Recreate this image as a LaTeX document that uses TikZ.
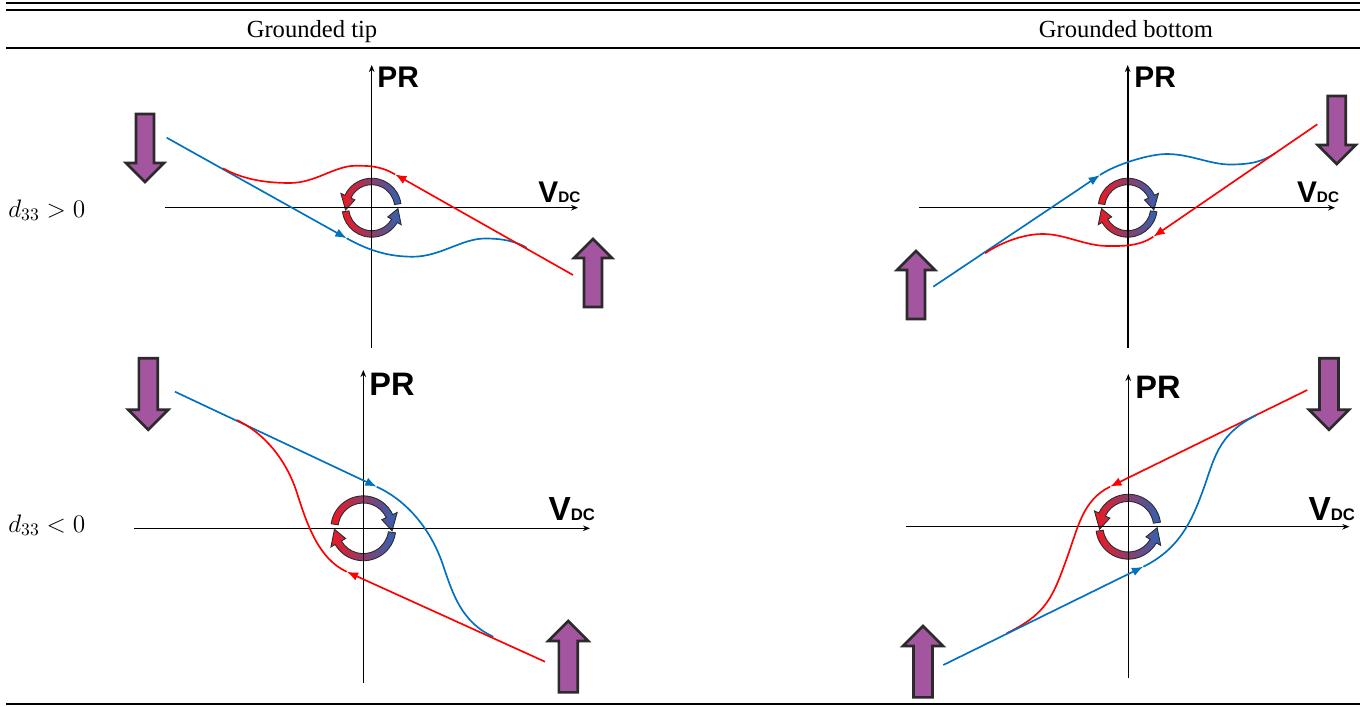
\documentclass[tikz,border=0pt]{standalone}
\usepackage{fontspec}
\setmainfont{Liberation Serif}
\setsansfont{Liberation Sans}
\usepackage{tikz}
\usetikzlibrary{arrows.meta}
\definecolor{pr-red}{HTML}{FF0000}
\definecolor{pr-blue}{HTML}{0070C0}
\definecolor{pr-purple}{HTML}{A4559F}
\definecolor{pr-edge}{HTML}{2B2B2B}
\definecolor{ring-red}{HTML}{EE1822}
\definecolor{ring-mid}{HTML}{8A4A9E}
\definecolor{ring-blue}{HTML}{2F62B4}

% one curved piece of the rotation symbol: start angle, head base angle, tip angle
\newcommand{\ringpiece}[3]{%
  \draw[ring] (#1:29.5) arc[start angle=#1, end angle=#2, radius=29.5]
    -- (#2:34) -- (#3:26.25) -- (#2:18.5) -- (#2:23)
    arc[start angle=#2, end angle=#1, radius=23] -- cycle;}
\newcommand{\dcsub}{{\fontsize{8.7}{9}\selectfont DC}}
\newcommand{\dcsubB}{{\fontsize{9.5}{10}\selectfont DC}}

\begin{document}
\begin{tikzpicture}[
    x=0.02cm, y=-0.02cm,
    rule/.style={line width=1.1pt, black},
    axis/.style={line width=0.9pt, -{Stealth[length=4pt, width=3.2pt]}},
    redcurve/.style={pr-red, line width=0.95pt},
    bluecurve/.style={pr-blue, line width=0.95pt},
    tip/.style={-{Latex[length=6.5pt, width=5pt]}},
    ring/.style={draw=pr-edge, line width=0.5pt, left color=ring-red,
                 middle color=ring-mid, right color=ring-blue},
    head/.style={font=\fontsize{14}{16}\selectfont, anchor=base, inner sep=0pt},
    rowlab/.style={font=\fontsize{14.5}{16}\selectfont, anchor=base west, inner sep=0pt},
    prlab/.style={font=\sffamily\bfseries\fontsize{17}{17}\selectfont, anchor=base west, inner sep=0pt},
    prlabB/.style={font=\sffamily\bfseries\fontsize{18.5}{18}\selectfont, anchor=base west, inner sep=0pt},
    vlab/.style={font=\sffamily\bfseries\fontsize{17}{17}\selectfont, anchor=base west, inner sep=0pt},
    vlabB/.style={font=\sffamily\bfseries\fontsize{19}{19}\selectfont, anchor=base west, inner sep=0pt},
    bigarrow/.pic={
        \draw[draw=pr-edge, fill=pr-purple, line width=1.5pt, line join=miter]
            (-9,-34) -- (9,-34) -- (9,15) -- (19,15) -- (0,34) -- (-19,15) -- (-9,15) -- cycle;
    },
    ccw/.pic={
        \begin{scope}[yscale=-1]
            \ringpiece{8}{155}{185}
            \ringpiece{188}{330}{358}
        \end{scope}
    },
    cw/.pic={
        \begin{scope}[yscale=-1]
            \ringpiece{172}{25}{-5}
            \ringpiece{352}{210}{182}
        \end{scope}
    }
]
\useasboundingbox (0,0) rectangle (1360,707);

% =========================================================================
% TABLE RULES AND HEADINGS
% =========================================================================
\coordinate (ruleAl) at (6,3);    \coordinate (ruleAr) at (1360,3);
\coordinate (ruleBl) at (6,10);   \coordinate (ruleBr) at (1360,10);
\coordinate (ruleCl) at (6,48);   \coordinate (ruleCr) at (1360,48);
\coordinate (ruleDl) at (6,704);  \coordinate (ruleDr) at (1360,704);
\draw[rule] (ruleAl) -- (ruleAr);
\draw[rule] (ruleBl) -- (ruleBr);
\draw[rule] (ruleCl) -- (ruleCr);
\draw[rule] (ruleDl) -- (ruleDr);

\node[head] (hdtip) at (312,37) {Grounded tip};
\node[head] (hdbot) at (1126,37) {Grounded bottom};

\node[rowlab] (rowpos) at (8,217) {$d_{33} > 0$};
\node[rowlab] (rowneg) at (8,532) {$d_{33} < 0$};

% =========================================================================
% GROUNDED TIP, d33 > 0
% =========================================================================
\pic at (371.7,207.7) {ccw};
\coordinate (tlxl) at (165,207.7);   \coordinate (tlxr) at (578,207.7);
\coordinate (tlyb) at (371.7,348);   \coordinate (tlyt) at (371.7,65);
\draw[axis] (tlxl) -- (tlxr);
\draw[axis] (tlyb) -- (tlyt);
\node[prlab] (tlpr) at (377,87) {PR};
\node[vlab] (tlvdc) at (538,202) {V\dcsub};

\coordinate (tlb0) at (166.7,137.7);  \coordinate (tlb1) at (346.7,238.3);
\coordinate (tlr0) at (573,275);      \coordinate (tlr1) at (395,174.3);
\draw[bluecurve, tip] (tlb0) -- (tlb1);
\draw[bluecurve] (tlb1) .. controls (372,252.4) and (392,256.7) .. (413,256.7)
    .. controls (440,256.7) and (462,238.5) .. (485,238.5)
    .. controls (503,238.5) and (515.4,241.3) .. (526.7,247.7);
\draw[redcurve, tip] (tlr0) -- (tlr1);
\draw[redcurve] (tlr1) .. controls (379.3,165.4) and (368,165.8) .. (355,165.8)
    .. controls (335,165.8) and (315,183) .. (290,183)
    .. controls (262,183) and (240.5,178.1) .. (223,168.3);

\pic at (145,148) {bigarrow};
\pic[rotate=180] at (593,273) {bigarrow};

% =========================================================================
% GROUNDED BOTTOM, d33 > 0
% =========================================================================
\pic at (1127.7,207.7) {cw};
\coordinate (trxl) at (919.3,207.7);  \coordinate (trxr) at (1335,207.7);
\coordinate (tryb) at (1127.7,348.3); \coordinate (tryt) at (1127.7,65);
\draw[axis] (trxl) -- (trxr);
\draw[axis] (tryb) -- (tryt);
\node[prlab] (trpr) at (1134,87) {PR};
\node[vlab] (trvdc) at (1296.7,202) {V\dcsub};

\coordinate (trb0) at (933.3,286.7);  \coordinate (trb1) at (1100,175);
\coordinate (trr0) at (1317.3,124.3); \coordinate (trr1) at (1153.3,236.7);
\draw[bluecurve, tip] (trb0) -- (trb1);
\draw[bluecurve] (trb1) .. controls (1116.6,163.9) and (1150,154) .. (1166.7,154)
    .. controls (1190,154) and (1210,164.5) .. (1230,164.5)
    .. controls (1250,164.5) and (1262.6,161.8) .. (1275,153.3);
\draw[redcurve, tip] (trr0) -- (trr1);
\draw[redcurve] (trr1) .. controls (1138.5,246.9) and (1120,246) .. (1108,246)
    .. controls (1085,246) and (1065,234) .. (1043,234)
    .. controls (1020,234) and (997.5,244.9) .. (985,253.3);

\pic at (1336.7,130) {bigarrow};
\pic[rotate=180] at (916,285) {bigarrow};

% =========================================================================
% GROUNDED TIP, d33 < 0
% =========================================================================
\pic[scale=1.1] at (363.3,528.3) {cw};
\coordinate (blxl) at (134,528.3);    \coordinate (blxr) at (590,528.3);
\coordinate (blyb) at (363.3,683.3);  \coordinate (blyt) at (363.3,370);
\draw[axis] (blxl) -- (blxr);
\draw[axis] (blyb) -- (blyt);
\node[prlabB] (blpr) at (369,395) {PR};
\node[vlabB] (blvdc) at (548.3,520.7) {V\dcsubB};

\coordinate (blb0) at (175,391.7);    \coordinate (blb1) at (376.7,486.7);
\coordinate (blr0) at (545,661.7);    \coordinate (blr1) at (346.7,571.7);
\draw[bluecurve, tip] (blb0) -- (blb1);
\draw[bluecurve] (blb1) .. controls (412.9,503.7) and (433.4,536.5) .. (443,565)
    .. controls (452.6,593.5) and (461.4,622.2) .. (493.3,636.7);
\draw[redcurve, tip] (blr0) -- (blr1);
\draw[redcurve] (blr1) .. controls (319.4,559.3) and (307.5,526.3) .. (297,493)
    .. controls (286.5,459.8) and (263.9,432.8) .. (236.7,420);

\pic[scale=1.05] at (148.3,394) {bigarrow};
\pic[scale=1.05, rotate=180] at (568.3,656.7) {bigarrow};

% =========================================================================
% GROUNDED BOTTOM, d33 < 0
% =========================================================================
\pic[scale=1.1] at (1128.3,526.7) {ccw};
\coordinate (brxl) at (906,526.7);    \coordinate (brxr) at (1349.3,526.7);
\coordinate (bryb) at (1128.3,678.3); \coordinate (bryt) at (1128.3,374);
\draw[axis] (brxl) -- (brxr);
\draw[axis] (bryb) -- (bryt);
\node[prlabB] (brpr) at (1135,398) {PR};
\node[vlabB] (brvdc) at (1308.3,520.7) {V\dcsubB};

\coordinate (brr0) at (1307.3,390);   \coordinate (brr1) at (1110,486.7);
\coordinate (brb0) at (943.3,665);    \coordinate (brb1) at (1143.3,566.7);
\draw[redcurve, tip] (brr0) -- (brr1);
\draw[redcurve] (brr1) .. controls (1083.1,499.9) and (1078.1,526.8) .. (1068,555)
    .. controls (1052.8,597.3) and (1047.1,613.5) .. (1006.7,633.3);
\draw[bluecurve, tip] (brb0) -- (brb1);
\draw[bluecurve] (brb1) .. controls (1179.2,549.1) and (1191.5,521.1) .. (1202,493)
    .. controls (1214.3,460.2) and (1216.3,434.8) .. (1256.7,415);

\pic[scale=1.05] at (1329,394) {bigarrow};
\pic[scale=1.05, rotate=180] at (923,661.7) {bigarrow};

\end{tikzpicture}
\end{document}
